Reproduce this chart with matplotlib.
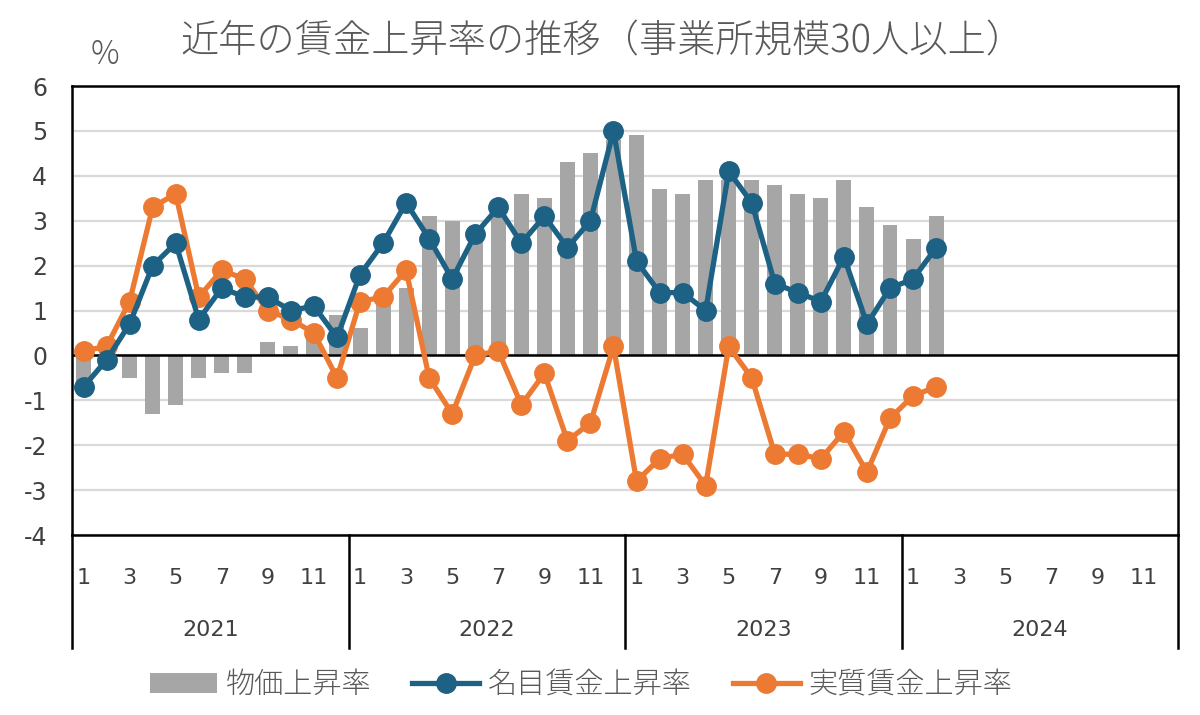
import matplotlib
matplotlib.use("Agg")
import matplotlib.pyplot as plt
import matplotlib.transforms as mtransforms
import numpy as np

plt.rcParams["font.family"] = ["Noto Sans CJK JP", "DejaVu Sans"]
plt.rcParams["axes.unicode_minus"] = False

# data (monthly, 2021-01 .. 2024-02), %
years = ["2021", "2022", "2023", "2024"]
month_labels = ["1", "3", "5", "7", "9", "11"]

cpi = [-0.7, -0.3, -0.5, -1.3, -1.1, -0.5, -0.4, -0.4, 0.3, 0.2, 0.6, 0.9,
       0.6, 1.2, 1.5, 3.1, 3.0, 2.8, 3.2, 3.6, 3.5, 4.3, 4.5, 4.8,
       4.9, 3.7, 3.6, 3.9, 3.9, 3.9, 3.8, 3.6, 3.5, 3.9, 3.3, 2.9,
       2.6, 3.1]
nominal = [-0.7, -0.1, 0.7, 2.0, 2.5, 0.8, 1.5, 1.3, 1.3, 1.0, 1.1, 0.4,
           1.8, 2.5, 3.4, 2.6, 1.7, 2.7, 3.3, 2.5, 3.1, 2.4, 3.0, 5.0,
           2.1, 1.4, 1.4, 1.0, 4.1, 3.4, 1.6, 1.4, 1.2, 2.2, 0.7, 1.5,
           1.7, 2.4]
real = [0.1, 0.2, 1.2, 3.3, 3.6, 1.3, 1.9, 1.7, 1.0, 0.8, 0.5, -0.5,
        1.2, 1.3, 1.9, -0.5, -1.3, 0.0, 0.1, -1.1, -0.4, -1.9, -1.5, 0.2,
        -2.8, -2.3, -2.2, -2.9, 0.2, -0.5, -2.2, -2.2, -2.3, -1.7, -2.6, -1.4,
        -0.9, -0.7]

title = "近年の賃金上昇率の推移（事業所規模30人以上）"
series_names = ["物価上昇率", "名目賃金上昇率", "実質賃金上昇率"]

GRAY_TXT = "#595959"
NUM_TXT = "#404040"
BAR = "#A6A6A6"
BLUE = "#1D6184"
ORANGE = "#EC7A33"
NUM_FONT = ["DejaVu Sans"]

fig = plt.figure(figsize=(12, 7.15), dpi=100)
ax = fig.add_axes([0.06, 0.2517, 0.9217, 0.628])

x = np.arange(len(cpi))
n_months = 12 * len(years)

bars = ax.bar(x, cpi, width=0.65, color=BAR, zorder=2)
l1, = ax.plot(x, nominal, color=BLUE, lw=3.8, marker="o", ms=14, zorder=4)
l2, = ax.plot(np.arange(len(real)), real, color=ORANGE, lw=3.8, marker="o",
              ms=14, zorder=3)

ax.set_xlim(-0.5, n_months - 0.5)
ax.set_ylim(-4, 6)
ax.set_yticks(range(-4, 7))
ax.yaxis.grid(True, color="#D9D9D9", lw=1.6, zorder=0)
ax.axhline(0, color="black", lw=1.8, zorder=2.5)
ax.tick_params(axis="y", length=0, pad=18, labelsize=17, labelcolor=NUM_TXT)

# month ticks, repeated for each year
ticks = [12 * i + m for i in range(len(years)) for m in range(0, 12, 2)]
ax.set_xticks(ticks)
ax.set_xticklabels(month_labels * len(years))
ax.tick_params(axis="x", length=0, pad=24, labelsize=16, labelcolor=NUM_TXT)
for lab in ax.get_xticklabels() + ax.get_yticklabels():
    lab.set_family(NUM_FONT)

for s in ax.spines.values():
    s.set_linewidth(1.8)
    s.set_color("black")

# year separators below the axis and year labels
trans = mtransforms.blended_transform_factory(ax.transData, ax.transAxes)
sep_h = (648 - 535) / (535 - 86)
for i in range(len(years) + 1):
    xs = 12 * i - 0.5
    ax.plot([xs, xs], [0, -sep_h], transform=trans, color="black", lw=1.8,
            clip_on=False)
for i, yr in enumerate(years):
    ax.text(12 * i + 5.5, -(630 - 535) / (535 - 86), yr, transform=trans,
            ha="center", va="center", fontsize=16, color=NUM_TXT,
            family=NUM_FONT)

fig.text(180 / 1200, 1 - 42 / 715, title, ha="left", va="center",
         fontsize=27.5, color=GRAY_TXT, fontweight="light")
fig.text(105 / 1200, 1 - 55 / 715, "%", ha="center", va="center",
         fontsize=23, color=GRAY_TXT, fontweight="light")

leg = fig.legend([bars, l1, l2], series_names, loc="center", ncol=3,
                 bbox_to_anchor=(581 / 1200, 1 - 685 / 715), frameon=False,
                 prop={"size": 21, "weight": "light"}, handlelength=2.3,
                 columnspacing=1.4, handletextpad=0.3)
for t in leg.get_texts():
    t.set_color(GRAY_TXT)

fig.savefig("out.png", dpi=100)
